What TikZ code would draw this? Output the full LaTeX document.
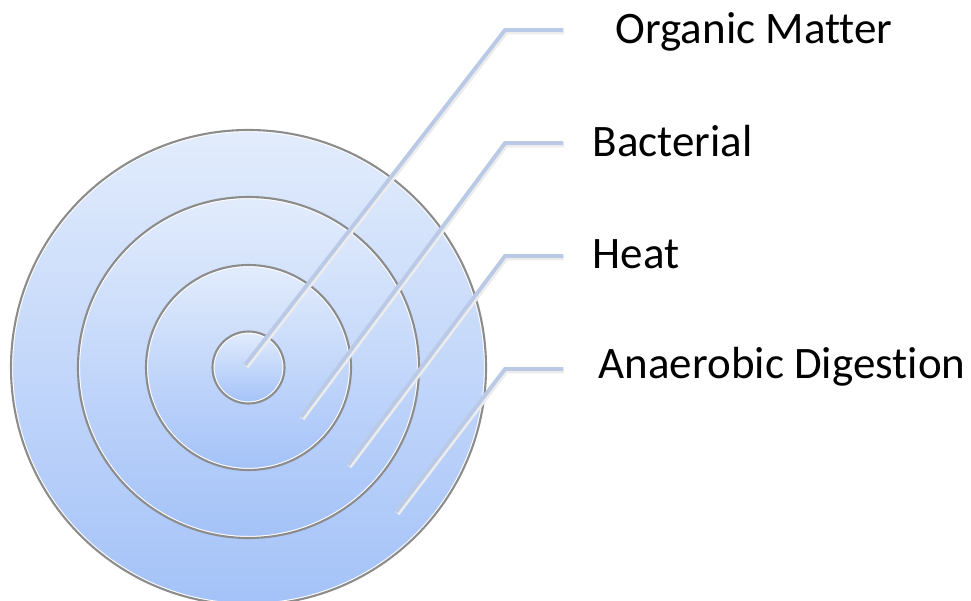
\documentclass[tikz,border=0pt]{standalone}
\usepackage{fontspec}
\setmainfont{Carlito}[Ligatures=NoCommon]
\usepackage{tikz}
\usetikzlibrary{calc}

\definecolor{ringtop}{HTML}{E2ECFC}
\definecolor{ringbot}{HTML}{A4C2F8}
\definecolor{leader}{HTML}{BACAE6}

\begin{document}
\begin{tikzpicture}[x=0.01cm, y=0.01cm,
  ring/.style={top color=ringtop, bottom color=ringbot},
  rim/.style={draw=gray!90, line width=0.6pt},
  lead/.style={draw=leader, line width=1.1pt},
  leadshadow/.style={draw=gray!15, line width=1.6pt},
  lbl/.style={anchor=base west, inner sep=0pt, font=\fontsize{12.8pt}{15pt}\selectfont}]
\useasboundingbox (0,0) rectangle (971,-600);
\coordinate (c) at (248.5,-367.5);
\foreach \r in {237.5,170.5,102.5,36} {
  \shade[ring] (c) circle (\r);
  \draw[white, line width=0.5pt] (c) circle (\r-1.2);
  \draw[rim] (c) circle (\r);
}
\node[lbl] (om)   at (615,-43)  {Organic Matter};
\node[lbl] (bac)  at (592,-156) {Bacterial};
\node[lbl] (heat) at (592,-268) {Heat};
\node[lbl] (ad)   at (598,-378) {Anaerobic Digestion};
\coordinate (s1) at (245,-365);  \coordinate (k1) at (505,-30);  \coordinate (e1) at (563,-30);
\coordinate (s2) at (301,-417);  \coordinate (k2) at (505,-143); \coordinate (e2) at (563,-143);
\coordinate (s3) at (348,-465);  \coordinate (k3) at (505,-256); \coordinate (e3) at (563,-256);
\coordinate (s4) at (396,-512);  \coordinate (k4) at (505,-369); \coordinate (e4) at (563,-369);
\foreach \i in {1,2,3,4} {
  \draw[leadshadow] ($(s\i)+(1,-1.5)$) -- ($(k\i)+(1,-1.5)$) -- ($(e\i)+(1,-1.5)$);
  \draw[lead] (s\i) -- (k\i) -- (e\i);
}
\end{tikzpicture}
\end{document}
